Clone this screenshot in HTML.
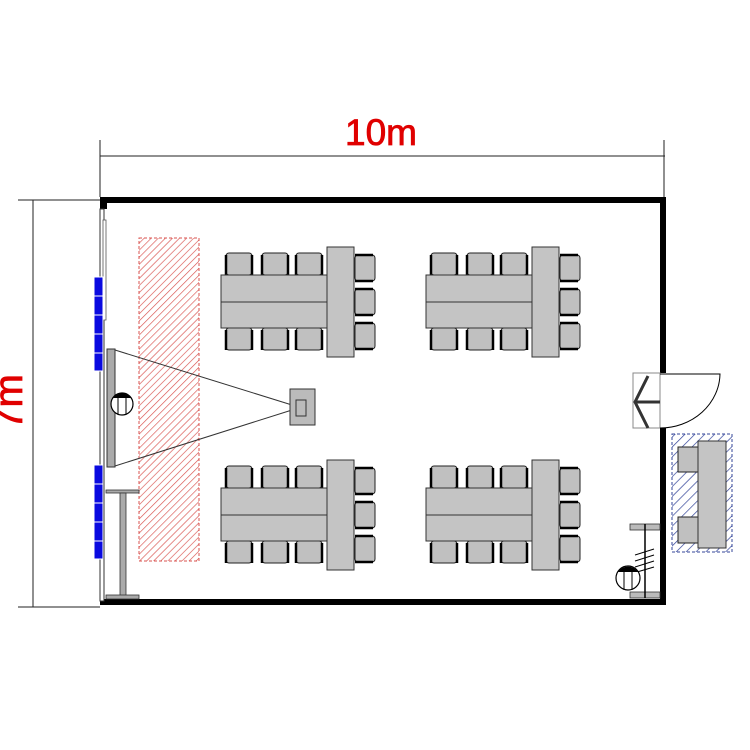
<!DOCTYPE html>
<html><head><meta charset="utf-8"><style>html,body{margin:0;padding:0;background:#fff}svg{display:block}</style></head>
<body>
<svg width="750" height="750" viewBox="0 0 750 750" xmlns="http://www.w3.org/2000/svg">
<defs>
<pattern id="hr" width="5" height="5" patternUnits="userSpaceOnUse" patternTransform="rotate(45)">
<rect width="5" height="5" fill="#fff"/><line x1="0" y1="0" x2="0" y2="5" stroke="#d9534f" stroke-width="1.3"/></pattern>
<pattern id="hb" width="7" height="7" patternUnits="userSpaceOnUse" patternTransform="rotate(45)">
<rect width="7" height="7" fill="#fff"/><line x1="0" y1="0" x2="0" y2="7" stroke="#334499" stroke-width="1.4"/></pattern>
<g id="chairV">
<rect x="0" y="0" width="26" height="22" rx="3" fill="#c0c0c0" stroke="#222" stroke-width="1"/>
<line x1="0" y1="2" x2="0" y2="22" stroke="#000" stroke-width="2.5"/>
<line x1="26" y1="2" x2="26" y2="22" stroke="#000" stroke-width="2.5"/>
</g>
<g id="chairH">
<rect x="0" y="0" width="20" height="26" rx="3" fill="#c0c0c0" stroke="#222" stroke-width="1"/>
<line x1="0" y1="0" x2="18" y2="0" stroke="#000" stroke-width="2.5"/>
<line x1="0" y1="26" x2="18" y2="26" stroke="#000" stroke-width="2.5"/>
</g>
<g id="grp">
<use href="#chairV" x="226" y="253"/><use href="#chairV" x="262" y="253"/><use href="#chairV" x="296" y="253"/>
<use href="#chairV" x="226" y="328"/><use href="#chairV" x="262" y="328"/><use href="#chairV" x="296" y="328"/>
<use href="#chairH" x="355" y="255"/><use href="#chairH" x="355" y="289"/><use href="#chairH" x="355" y="323"/>
<rect x="221" y="275" width="106" height="53" fill="#c4c4c4" stroke="#333" stroke-width="1"/>
<line x1="221" y1="302" x2="327" y2="302" stroke="#333" stroke-width="1"/>
<rect x="327" y="247" width="27" height="110" fill="#c4c4c4" stroke="#333" stroke-width="1"/>
</g>
</defs>

<line x1="100" y1="156" x2="665" y2="156" stroke="#222" stroke-width="1"/>
<line x1="100" y1="140" x2="100" y2="197" stroke="#222" stroke-width="1"/>
<line x1="664" y1="140" x2="664" y2="197" stroke="#222" stroke-width="1"/>
<text x="381" y="145" font-family="Liberation Sans, sans-serif" font-size="37" fill="#e00000" stroke="#e00000" stroke-width="0.8" text-anchor="middle">10m</text>
<line x1="33" y1="200" x2="33" y2="607" stroke="#222" stroke-width="1"/>
<line x1="18" y1="200" x2="100" y2="200" stroke="#222" stroke-width="1"/>
<line x1="18" y1="607" x2="100" y2="607" stroke="#222" stroke-width="1"/>
<text transform="translate(22,402) rotate(-90)" font-family="Liberation Sans, sans-serif" font-size="40" fill="#e00000" stroke="#e00000" stroke-width="0.8" text-anchor="middle">7m</text>

<rect x="100" y="197" width="566" height="6" fill="#000"/>
<rect x="100" y="599" width="566" height="6" fill="#000"/>
<rect x="660" y="197" width="6" height="176" fill="#000"/>
<rect x="660" y="428" width="6" height="177" fill="#000"/>
<rect x="100" y="197" width="7" height="12" fill="#000"/>
<rect x="100" y="209" width="4" height="392" fill="#fff" stroke="#333" stroke-width="1"/>
<rect x="103" y="220" width="3" height="100" fill="#fff" stroke="#555" stroke-width="0.8"/>

<g fill="#0a0ae0" stroke="#fff" stroke-width="1">
<rect x="94" y="277" width="9" height="19"/><rect x="94" y="296" width="9" height="19"/><rect x="94" y="315" width="9" height="19"/><rect x="94" y="334" width="9" height="19"/><rect x="94" y="353" width="9" height="18"/>
<rect x="94" y="465" width="9" height="19"/><rect x="94" y="484" width="9" height="19"/><rect x="94" y="503" width="9" height="19"/><rect x="94" y="522" width="9" height="19"/><rect x="94" y="541" width="9" height="18"/>
</g>

<rect x="139" y="238" width="60" height="323" fill="url(#hr)" stroke="#d9534f" stroke-width="1" stroke-dasharray="3,2"/>

<rect x="107" y="349" width="8" height="118" fill="#aaa" stroke="#333" stroke-width="1"/>
<line x1="115" y1="350" x2="292" y2="405" stroke="#333" stroke-width="1"/>
<line x1="115" y1="466" x2="292" y2="410" stroke="#333" stroke-width="1"/>
<rect x="290" y="389" width="25" height="36" fill="#bbb" stroke="#333" stroke-width="1"/>
<rect x="296" y="400" width="10" height="16" fill="#bbb" stroke="#333" stroke-width="1"/>
<circle cx="122" cy="404" r="11" fill="#fff" stroke="#000" stroke-width="1.2"/>
<path d="M113 398 A11 11 0 0 1 131 398 Z" fill="#000"/>
<line x1="118" y1="398" x2="118" y2="414" stroke="#000"/><line x1="126" y1="398" x2="126" y2="414" stroke="#000"/>

<rect x="106" y="490" width="33" height="3" fill="#aaa" stroke="#333" stroke-width="0.8"/>
<rect x="120" y="493" width="6" height="103" fill="#aaa" stroke="#333" stroke-width="0.8"/>
<rect x="106" y="595" width="33" height="4" fill="#aaa" stroke="#333" stroke-width="0.8"/>

<use href="#grp"/>
<use href="#grp" x="205"/>
<use href="#grp" y="213"/>
<use href="#grp" x="205" y="213"/>

<rect x="633" y="373" width="27" height="55" fill="#fff" stroke="#888" stroke-width="1"/>
<path d="M660 374 L720 374 A60 55 0 0 1 660 428" fill="none" stroke="#000" stroke-width="1"/>
<path d="M648 376 L635 402 L648 428" fill="none" stroke="#333" stroke-width="3"/>
<line x1="635" y1="402" x2="660" y2="402" stroke="#333" stroke-width="3"/>

<rect x="672" y="434" width="60" height="118" fill="url(#hb)" stroke="#334499" stroke-width="1" stroke-dasharray="3,2"/>
<rect x="678" y="447" width="20" height="25" fill="#c0c0c0" stroke="#222"/>
<rect x="678" y="517" width="20" height="26" fill="#c0c0c0" stroke="#222"/>
<rect x="698" y="441" width="28" height="107" fill="#c4c4c4" stroke="#333"/>

<rect x="630" y="524" width="30" height="6" fill="#bbb" stroke="#333" stroke-width="0.8"/>
<rect x="630" y="592" width="30" height="6" fill="#bbb" stroke="#333" stroke-width="0.8"/>
<line x1="645" y1="524" x2="645" y2="598" stroke="#000" stroke-width="1.5"/>
<g stroke="#000" stroke-width="1"><line x1="635" y1="555" x2="654" y2="549"/><line x1="635" y1="561" x2="654" y2="555"/><line x1="635" y1="567" x2="654" y2="561"/><line x1="637" y1="572" x2="654" y2="567"/></g>
<circle cx="628" cy="578" r="12" fill="#fff" stroke="#000" stroke-width="1.2"/>
<path d="M618 572 A12 12 0 0 1 638 572 Z" fill="#000"/>
<line x1="624" y1="572" x2="624" y2="590" stroke="#000"/><line x1="632" y1="572" x2="632" y2="590" stroke="#000"/>
</svg>
</body></html>
